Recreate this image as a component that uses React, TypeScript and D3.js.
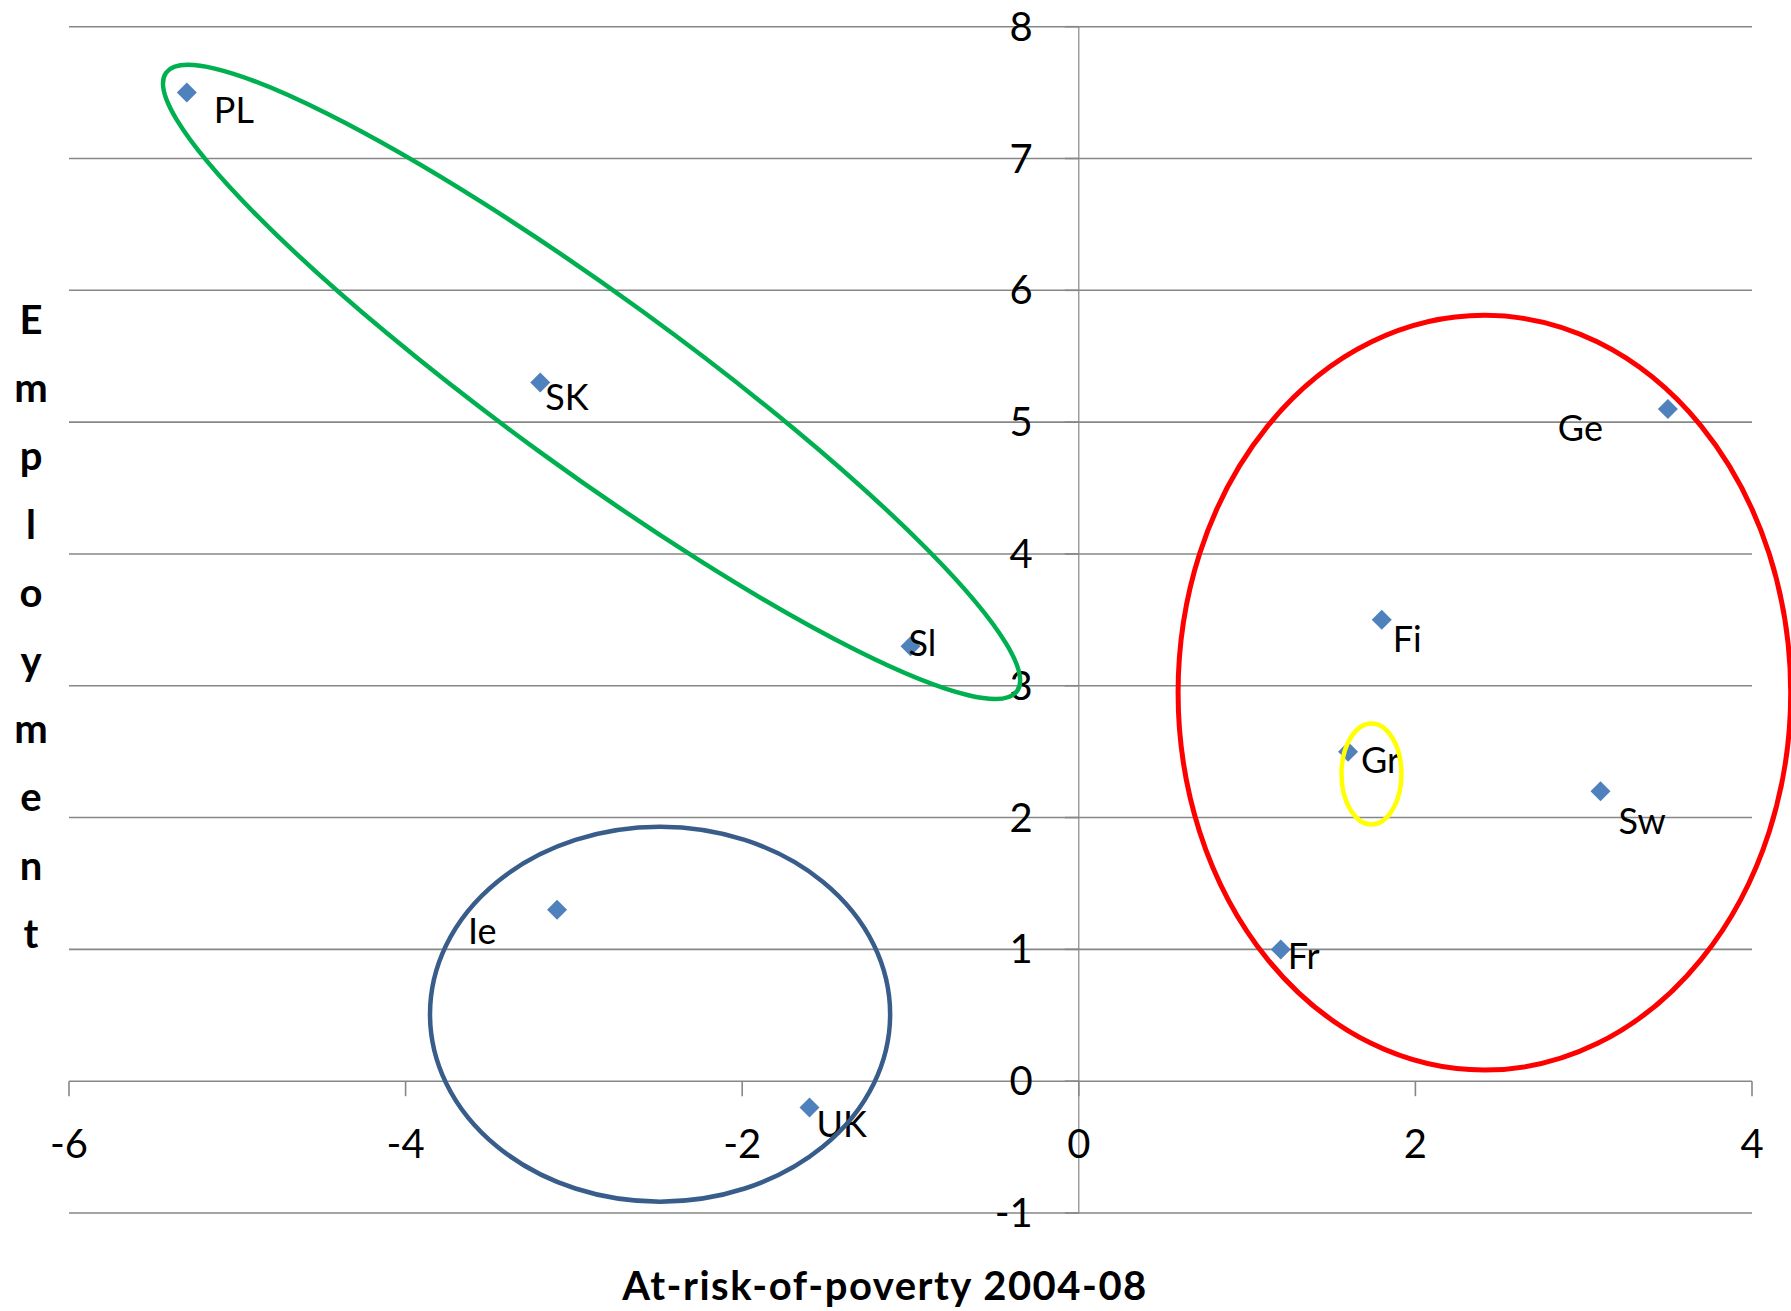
import React from "react";
import * as d3 from "d3";

// ---- data ----
const countries = ["PL", "SK", "Sl", "Ie", "UK", "Ge", "Fi", "Gr", "Sw", "Fr"];
const poverty = [-5.3, -3.2, -1.0, -3.1, -1.6, 3.5, 1.8, 1.6, 3.1, 1.2];
const employment = [7.5, 5.3, 3.3, 1.3, -0.2, 5.1, 3.5, 2.5, 2.2, 1.0];
const xTicks = [-6, -4, -2, 0, 2, 4];
const yTicks = [-1, 0, 1, 2, 3, 4, 5, 6, 7, 8];
const xTitle = "At-risk-of-poverty 2004-08";
const yTitle = "Employment";

// annotation ellipses (centre in data units, semi-axes in axis units)
const ellipseNames = ["green", "red", "blue", "yellow"];
const ellipseCx = [-2.895, 2.41, -2.488, 1.739];
const ellipseCy = [5.305, 2.947, 0.508, 2.331];
const ellipseRx = [3.125, 1.82, 1.367, 0.178];
const ellipseRy = [0.517, 2.863, 1.422, 0.383];
const ellipseAngle = [36, 0, 0, 0];

// label placement (px offsets of text start/baseline from the marker)
const labelDx = [27, 5, -2, -89, 7, -110, 11, 13, 18, 7];
const labelDy = [30, 27, 10, 34, 29, 32, 32, 21, 43, 20];

const W = 1791;
const H = 1311;
const FONT = "Lato, 'Open Sans', sans-serif";
const GRID = "#878787";

export default function App() {
  const x = d3.scaleLinear().domain([-6, 4]).range([69, 1752]);
  const y = d3.scaleLinear().domain([-1, 8]).range([1213, 26.7]);
  const ux = x(1) - x(0);
  const uy = y(0) - y(1);
  const diamond = d3.symbol(d3.symbolSquare, 200)();
  const colors: Record<string, string> = {
    green: "#00B050",
    red: "#FF0000",
    blue: "#385D8A",
    yellow: "#FFFF00",
  };
  const widths: Record<string, number> = { green: 4.5, red: 5, blue: 4.5, yellow: 4.5 };

  return (
    <svg
      width={W}
      height={H}
      style={{ position: "absolute", left: 0, top: 0, background: "#fff" }}
      fontFamily={FONT}
    >
      <rect x={0} y={0} width={W} height={H} fill="#fff" />
      {/* gridlines */}
      {yTicks.map((t) => (
        <line key={"g" + t} x1={x(-6)} x2={x(4)} y1={y(t)} y2={y(t)} stroke={GRID} strokeWidth={1.6} />
      ))}
      {/* vertical axis */}
      <line x1={x(0)} x2={x(0)} y1={y(8)} y2={y(-1)} stroke={GRID} strokeWidth={1.2} />
      {yTicks.map((t) => (
        <line key={"yt" + t} x1={x(0) - 14} x2={x(0)} y1={y(t)} y2={y(t)} stroke={GRID} strokeWidth={1.6} />
      ))}
      {/* x axis ticks */}
      {xTicks.map((t) => (
        <line key={"xt" + t} x1={x(t)} x2={x(t)} y1={y(0)} y2={y(0) + 15} stroke={GRID} strokeWidth={1.6} />
      ))}
      {/* y tick labels */}
      {yTicks.map((t) => (
        <text key={"yl" + t} x={x(0) - 46} y={y(t) + 14} textAnchor="end" fontSize={40} fill="#000">
          {t}
        </text>
      ))}
      {/* x tick labels */}
      {xTicks.map((t) => (
        <text key={"xl" + t} x={x(t)} y={y(0) + 77} textAnchor="middle" fontSize={40} fill="#000">
          {t}
        </text>
      ))}
      {/* axis titles */}
      <text x={885} y={1300} textAnchor="middle" fontSize={40} fontWeight="bold" letterSpacing={1.5} fill="#000">
        {xTitle}
      </text>
      {yTitle.split("").map((c, i) => (
        <text key={"yt" + i} x={31} y={334 + i * 68.2} textAnchor="middle" fontSize={40} fontWeight="bold" fill="#000">
          {c}
        </text>
      ))}
      {/* points */}
      {countries.map((c, i) => (
        <path
          key={"p" + c}
          d={diamond!}
          transform={`translate(${x(poverty[i])},${y(employment[i])}) rotate(45)`}
          fill="#4F81BD"
        />
      ))}
      {/* labels */}
      {countries.map((c, i) => (
        <text
          key={"l" + c}
          x={x(poverty[i]) + labelDx[i]}
          y={y(employment[i]) + labelDy[i]}
          fontSize={36}
          fill="#000"
        >
          {c}
        </text>
      ))}
      {/* annotation ellipses */}
      {ellipseNames.map((n, i) => {
        const rot = ellipseAngle[i] !== 0;
        const rx = ellipseRx[i] * ux;
        const ry = rot ? ellipseRy[i] * ux : ellipseRy[i] * uy;
        return (
          <ellipse
            key={n}
            cx={0}
            cy={0}
            rx={rx}
            ry={ry}
            transform={`translate(${x(ellipseCx[i])},${y(ellipseCy[i])}) rotate(${ellipseAngle[i]})`}
            fill="none"
            stroke={colors[n]}
            strokeWidth={widths[n]}
          />
        );
      })}
    </svg>
  );
}
